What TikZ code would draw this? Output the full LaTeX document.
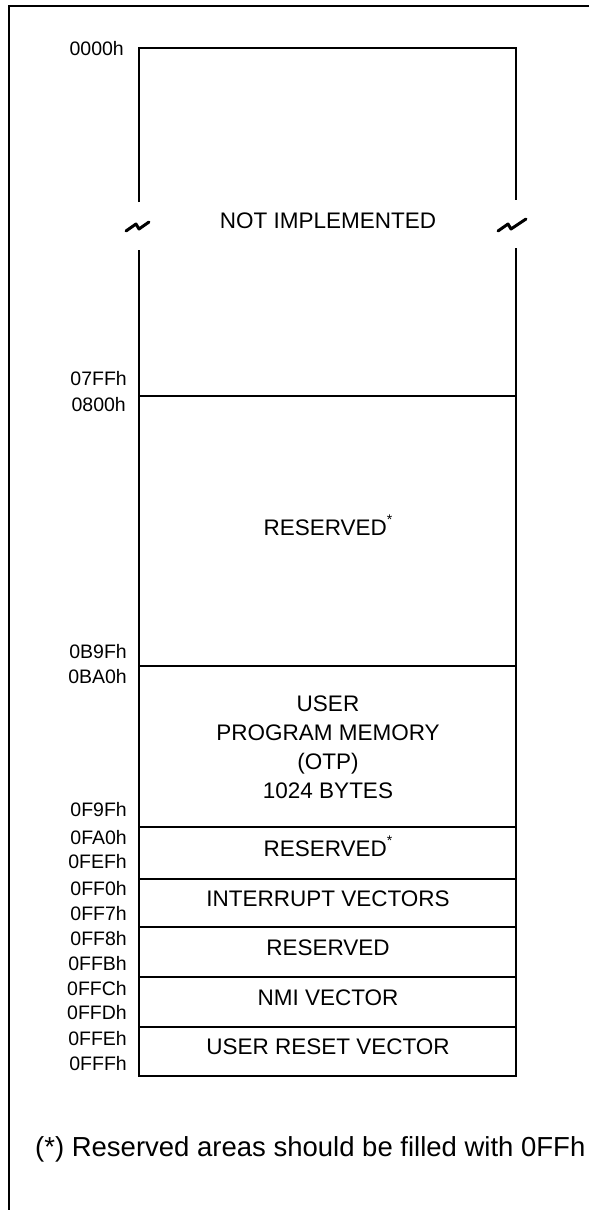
\documentclass[tikz,border=0pt]{standalone}
\usepackage{fontspec}
\setmainfont{Liberation Sans}
\newcommand{\resast}{\raisebox{0.5em}{\fontsize{14}{14}\selectfont *}}
\begin{document}
\begin{tikzpicture}[x=1pt,y=-1pt,
  frame/.style={line width=2.4pt},
  mem/.style={line width=2.9pt},
  brk/.style={line width=3pt, line cap=round, line join=round},
  addr/.style={anchor=east, inner sep=0pt, font=\fontsize{19.5}{22}\selectfont, text height=0.72em, text depth=0pt},
  lblbase/.style={inner sep=0pt, font=\fontsize{22.5}{29}\selectfont, align=center},
  lbl/.style={lblbase, text height=0.72em, text depth=0pt},
  note/.style={anchor=west, inner sep=0pt, font=\fontsize{27.5}{30}\selectfont, text height=0.72em, text depth=0pt}
]
\useasboundingbox (0,0) rectangle (589,1210);
% outer frame
\draw[frame] (589,6) -- (9,6) -- (9,1210);
% memory map outline
\coordinate (tl) at (139,48);
\coordinate (tr) at (516,48);
\coordinate (bl) at (139,1076);
\coordinate (br) at (516,1076);
\coordinate (lb1) at (139,202);
\coordinate (lb2) at (139,250);
\coordinate (rb1) at (516,200);
\coordinate (rb2) at (516,248);
\draw[mem] (lb1) -- (tl) -- (tr) -- (rb1);
\draw[mem] (lb2) -- (bl) -- (br) -- (rb2);
% break marks
\draw[brk] (126,231) -- (136,224) -- (139,229) -- (149,222);
\draw[brk] (498,231) -- (508,224) -- (511,229) -- (526,219);
% horizontal separators
\foreach \yy/\nm in {396/a,666/b,827/c,879/d,927/e,977/f,1027/g}{
  \coordinate (L\nm) at (139,\yy);
  \coordinate (R\nm) at (516,\yy);
  \draw[mem] (L\nm) -- (R\nm);
}
% region labels
\node[lbl] (notimpl) at (328,225) {NOT IMPLEMENTED};
\node[lbl] (res1) at (328,532) {RESERVED\resast};
\node[lblbase] (user) at (328,747) {USER\\PROGRAM MEMORY\\(OTP)\\1024 BYTES};
\node[lbl] (res2) at (328,853) {RESERVED\resast};
\node[lbl] (intv) at (328,903) {INTERRUPT VECTORS};
\node[lbl] (res3) at (328,952) {RESERVED};
\node[lbl] (nmi) at (328,1002) {NMI VECTOR};
\node[lbl] (rst) at (328,1051) {USER RESET VECTOR};
% address labels
\node[addr] (a0000) at (124,52) {0000h};
\node[addr] (a07FF) at (127,382) {07FFh};
\node[addr] (a0800) at (126,408) {0800h};
\node[addr] (a0B9F) at (127,655) {0B9Fh};
\node[addr] (a0BA0) at (127,680) {0BA0h};
\node[addr] (a0F9F) at (127,813) {0F9Fh};
\node[addr] (a0FA0) at (127,841) {0FA0h};
\node[addr] (a0FEF) at (127,865) {0FEFh};
\node[addr] (a0FF0) at (127,892) {0FF0h};
\node[addr] (a0FF7) at (127,917) {0FF7h};
\node[addr] (a0FF8) at (127,942) {0FF8h};
\node[addr] (a0FFB) at (127,967) {0FFBh};
\node[addr] (a0FFC) at (127,992) {0FFCh};
\node[addr] (a0FFD) at (127,1016) {0FFDh};
\node[addr] (a0FFE) at (127,1042) {0FFEh};
\node[addr] (a0FFF) at (127,1067) {0FFFh};
% footnote
\node[note] (fn) at (35,1153) {(*) Reserved areas should be filled with 0FFh};
\end{tikzpicture}
\end{document}
